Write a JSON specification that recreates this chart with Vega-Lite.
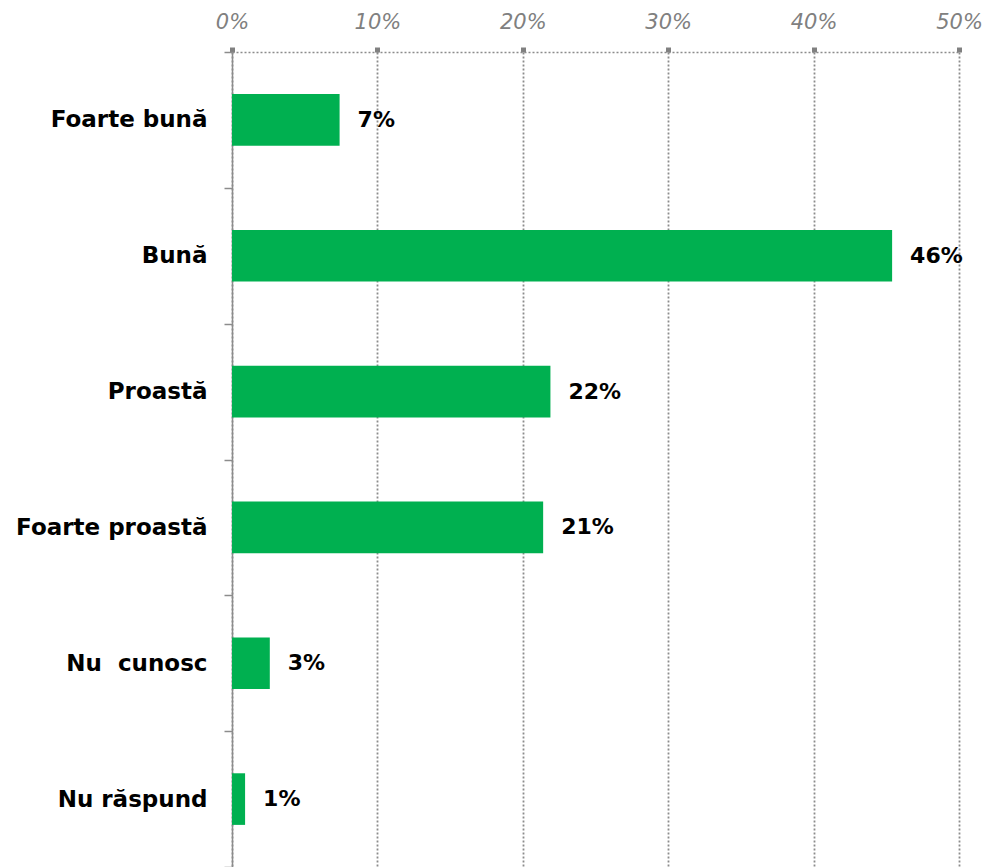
{
  "$schema": "https://vega.github.io/schema/vega-lite/v6.json",
  "autosize": "none",
  "width": 727,
  "height": 815,
  "padding": {"left": 232, "top": 52, "right": 33, "bottom": 0},
  "background": "white",
  "config": {"view": {"stroke": null}, "font": "DejaVu Sans"},
  "data": {"values": [
    {"category": "Foarte bună", "value": 7.4, "label": "7%"},
    {"category": "Bună", "value": 45.4, "label": "46%"},
    {"category": "Proastă", "value": 21.9, "label": "22%"},
    {"category": "Foarte proastă", "value": 21.4, "label": "21%"},
    {"category": "Nu  cunosc", "value": 2.6, "label": "3%"},
    {"category": "Nu răspund", "value": 0.9, "label": "1%"}
  ]},
  "encoding": {
    "y": {
      "field": "category", "type": "nominal", "sort": null,
      "scale": {"paddingInner": 0, "paddingOuter": 0},
      "axis": {
        "title": null, "orient": "left", "grid": false,
        "labelExpr": "replace(datum.label, '  ', '\u00a0\u00a0')",
        "domainColor": "#8c8c8c", "domainWidth": 1.5,
        "tickBand": "extent", "tickColor": "#8c8c8c", "tickWidth": 1.5, "tickSize": 8,
        "labelFont": "DejaVu Sans", "labelFontWeight": "bold", "labelFontSize": 23,
        "labelColor": "#000000", "labelPadding": 17, "labelLimit": 300
      }
    },
    "x": {
      "field": "value", "type": "quantitative",
      "scale": {"domain": [0, 50], "nice": false},
      "axis": {
        "title": null, "orient": "top", "values": [0, 10, 20, 30, 40, 50],
        "labelExpr": "datum.value + '%'", "labelFlush": false,
        "grid": true, "gridColor": "#8c8c8c", "gridDash": [2, 2], "gridWidth": 1.8,
        "domainColor": "#8c8c8c", "domainDash": [2, 2], "domainWidth": 1.5,
        "tickColor": "#808080", "tickSize": 5, "tickWidth": 5,
        "labelFont": "DejaVu Sans", "labelFontStyle": "italic", "labelFontSize": 21,
        "labelColor": "#808080", "labelPadding": 15
      }
    }
  },
  "layer": [
    {"mark": {"type": "bar", "color": "#00b050", "height": {"band": 0.38}}},
    {
      "mark": {"type": "text", "align": "left", "baseline": "middle", "dx": 18,
        "font": "DejaVu Sans", "fontWeight": "bold", "fontSize": 22, "color": "#000000"},
      "encoding": {"text": {"field": "label"}}
    }
  ]
}
